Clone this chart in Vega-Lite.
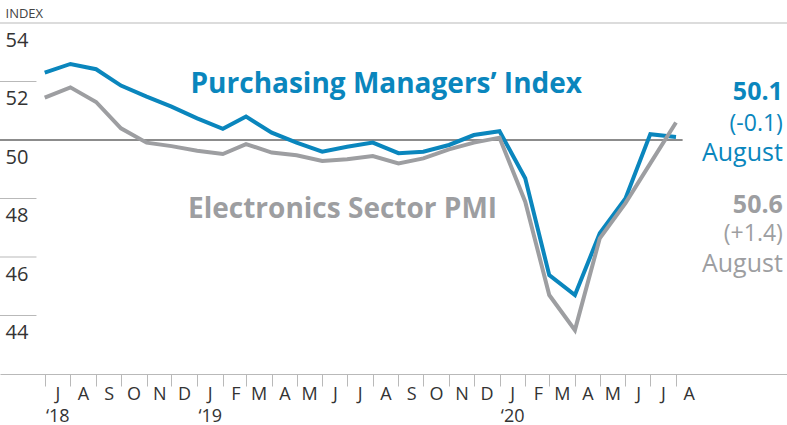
{
  "$schema": "https://vega.github.io/schema/vega-lite/v6.json",
  "width": 787,
  "height": 351,
  "autosize": {"type": "none"},
  "padding": {"left": 0, "top": 23, "right": 0, "bottom": 51},
  "background": "white",
  "config": {"view": {"stroke": null}, "font": "Open Sans"},
  "data": {
    "values": [
      {"month": "2018-07-01", "pmi": 52.3, "electronics": 51.45},
      {"month": "2018-08-01", "pmi": 52.6, "electronics": 51.8},
      {"month": "2018-09-01", "pmi": 52.42, "electronics": 51.3},
      {"month": "2018-10-01", "pmi": 51.86, "electronics": 50.4},
      {"month": "2018-11-01", "pmi": 51.48, "electronics": 49.91},
      {"month": "2018-12-01", "pmi": 51.14, "electronics": 49.79},
      {"month": "2019-01-01", "pmi": 50.74, "electronics": 49.63},
      {"month": "2019-02-01", "pmi": 50.38, "electronics": 49.52},
      {"month": "2019-03-01", "pmi": 50.8, "electronics": 49.86},
      {"month": "2019-04-01", "pmi": 50.25, "electronics": 49.57},
      {"month": "2019-05-01", "pmi": 49.91, "electronics": 49.48},
      {"month": "2019-06-01", "pmi": 49.6, "electronics": 49.28},
      {"month": "2019-07-01", "pmi": 49.77, "electronics": 49.34},
      {"month": "2019-08-01", "pmi": 49.91, "electronics": 49.45},
      {"month": "2019-09-01", "pmi": 49.55, "electronics": 49.2},
      {"month": "2019-10-01", "pmi": 49.6, "electronics": 49.37},
      {"month": "2019-11-01", "pmi": 49.83, "electronics": 49.68},
      {"month": "2019-12-01", "pmi": 50.17, "electronics": 49.91},
      {"month": "2020-01-01", "pmi": 50.3, "electronics": 50.08},
      {"month": "2020-02-01", "pmi": 48.69, "electronics": 47.89},
      {"month": "2020-03-01", "pmi": 45.38, "electronics": 44.7},
      {"month": "2020-04-01", "pmi": 44.7, "electronics": 43.5},
      {"month": "2020-05-01", "pmi": 46.81, "electronics": 46.64},
      {"month": "2020-06-01", "pmi": 48.0, "electronics": 47.84},
      {"month": "2020-07-01", "pmi": 50.2, "electronics": 49.2},
      {"month": "2020-08-01", "pmi": 50.1, "electronics": 50.6}
    ]
  },
  "layer": [
    {
      "data": {"values": [{"tick": 52}, {"tick": 48}, {"tick": 46}, {"tick": 44}]},
      "mark": {"type": "rule", "color": "#b9b9b9", "strokeWidth": 1.2},
      "encoding": {
        "y": {"field": "tick", "type": "quantitative", "scale": {"domain": [42, 54], "nice": false, "zero": false}},
        "x": {"datum": {"year": 2018, "month": 5, "date": 8, "utc": true}, "type": "temporal", "scale": {"type": "utc", "domain": [{"year": 2018, "month": 5, "date": 8, "utc": true}, {"year": 2020, "month": 12, "date": 13, "utc": true}]}},
        "x2": {"datum": {"year": 2018, "month": 6, "date": 21, "utc": true}}
      }
    },
    {
      "data": {"values": [{}]},
      "mark": {"type": "rule", "color": "#b9b9b9", "strokeWidth": 1.2},
      "encoding": {
        "y": {"datum": 54, "type": "quantitative", "scale": {"domain": [42, 54], "nice": false, "zero": false}}
      }
    },
    {
      "data": {"values": [{}]},
      "mark": {"type": "rule", "color": "#1a1a1a", "strokeWidth": 1.2},
      "encoding": {
        "y": {"datum": 50, "type": "quantitative", "scale": {"domain": [42, 54], "nice": false, "zero": false}},
        "x": {"datum": {"year": 2018, "month": 5, "date": 8, "utc": true}, "type": "temporal", "scale": {"type": "utc", "domain": [{"year": 2018, "month": 5, "date": 8, "utc": true}, {"year": 2020, "month": 12, "date": 13, "utc": true}]}},
        "x2": {"datum": {"year": 2020, "month": 8, "date": 9, "utc": true}}
      }
    },
    {
      "mark": {"type": "line", "color": "#0a86bd", "strokeWidth": 4, "strokeJoin": "miter", "strokeCap": "butt"},
      "encoding": {
        "x": {
          "field": "month", "type": "temporal",
          "scale": {"type": "utc", "domain": [{"year": 2018, "month": 5, "date": 8, "utc": true}, {"year": 2020, "month": 12, "date": 13, "utc": true}]},
          "axis": {
            "title": null,
            "values": {"expr": "[utc(2018,6,1),utc(2018,7,1),utc(2018,8,1),utc(2018,9,1),utc(2018,10,1),utc(2018,11,1),utc(2019,0,1),utc(2019,1,1),utc(2019,2,1),utc(2019,3,1),utc(2019,4,1),utc(2019,5,1),utc(2019,6,1),utc(2019,7,1),utc(2019,8,1),utc(2019,9,1),utc(2019,10,1),utc(2019,11,1),utc(2020,0,1),utc(2020,1,1),utc(2020,2,1),utc(2020,3,1),utc(2020,4,1),utc(2020,5,1),utc(2020,6,1),utc(2020,7,1)]"},
            "tickCount": 40,
            "grid": false,
            "domain": true,
            "domainColor": "#b9b9b9",
            "domainWidth": 1.2,
            "ticks": true,
            "tickColor": "#b9b9b9",
            "tickSize": 12,
            "tickWidth": 1,
            "labelExpr": "(utcmonth(datum.value) == 0 || (utcyear(datum.value) == 2018 && utcmonth(datum.value) == 6)) ? [substring(utcFormat(datum.value, '%b'), 0, 1), '‘' + utcFormat(datum.value, '%y')] : substring(utcFormat(datum.value, '%b'), 0, 1)",
            "labelAlign": "center",
            "labelBaseline": "top",
            "labelPadding": -1,
            "labelOffset": 12.6,
            "labelFont": "Open Sans",
            "labelFontSize": 18,
            "labelColor": "#333333",
            "labelLineHeight": 22,
            "labelFlush": false,
            "labelOverlap": false,
            "labelBound": false
          }
        },
        "y": {
          "field": "pmi", "type": "quantitative",
          "scale": {"domain": [42, 54], "nice": false, "zero": false},
          "axis": {
            "title": "INDEX",
            "titleAngle": 0,
            "titleAlign": "left",
            "titleBaseline": "alphabetic",
            "titleX": 5,
            "titleY": -6,
            "titleFont": "Open Sans",
            "titleFontSize": 13,
            "titleFontWeight": "normal",
            "titleColor": "#444444",
            "values": [44, 46, 48, 50, 52, 54],
            "format": ".0f",
            "grid": false,
            "domain": false,
            "ticks": false,
            "tickSize": 0,
            "labelAlign": "left",
            "labelBaseline": "alphabetic",
            "labelPadding": -5,
            "labelOffset": 23,
            "labelFont": "Open Sans",
            "labelFontSize": 20,
            "labelColor": "#333333",
            "labelFlush": false,
            "labelOverlap": false,
            "labelBound": false
          }
        }
      }
    },
    {
      "mark": {"type": "line", "color": "#9d9ea1", "strokeWidth": 4, "strokeJoin": "miter", "strokeCap": "butt"},
      "encoding": {
        "x": {"field": "month", "type": "temporal", "scale": {"type": "utc", "domain": [{"year": 2018, "month": 5, "date": 8, "utc": true}, {"year": 2020, "month": 12, "date": 13, "utc": true}]}},
        "y": {"field": "electronics", "type": "quantitative", "scale": {"domain": [42, 54], "nice": false, "zero": false}}
      }
    },
    {
      "data": {"values": [{}]},
      "mark": {"type": "text", "text": "Purchasing Managers’ Index", "font": "Open Sans", "fontSize": 28, "fontWeight": "bold", "color": "#0a86bd", "align": "left", "baseline": "alphabetic"},
      "encoding": {
        "x": {"datum": {"year": 2018, "month": 12, "date": 24, "utc": true}, "type": "temporal", "scale": {"type": "utc", "domain": [{"year": 2018, "month": 5, "date": 8, "utc": true}, {"year": 2020, "month": 12, "date": 13, "utc": true}]}},
        "y": {"datum": 51.61, "type": "quantitative", "scale": {"domain": [42, 54], "nice": false, "zero": false}}
      }
    },
    {
      "data": {"values": [{}]},
      "mark": {"type": "text", "text": "Electronics Sector PMI", "font": "Open Sans", "fontSize": 28, "fontWeight": "bold", "color": "#9d9ea1", "align": "left", "baseline": "alphabetic"},
      "encoding": {
        "x": {"datum": {"year": 2018, "month": 12, "date": 21, "utc": true}, "type": "temporal", "scale": {"type": "utc", "domain": [{"year": 2018, "month": 5, "date": 8, "utc": true}, {"year": 2020, "month": 12, "date": 13, "utc": true}]}},
        "y": {"datum": 47.33, "type": "quantitative", "scale": {"domain": [42, 54], "nice": false, "zero": false}}
      }
    },
    {
      "data": {"values": [{}]},
      "mark": {"type": "text", "text": "50.1", "font": "Open Sans", "fontSize": 25, "fontWeight": "bold", "color": "#0a86bd", "align": "right", "baseline": "alphabetic"},
      "encoding": {
        "x": {"datum": {"year": 2020, "month": 12, "date": 8, "utc": true}, "type": "temporal", "scale": {"type": "utc", "domain": [{"year": 2018, "month": 5, "date": 8, "utc": true}, {"year": 2020, "month": 12, "date": 13, "utc": true}]}},
        "y": {"datum": 51.368, "type": "quantitative", "scale": {"domain": [42, 54], "nice": false, "zero": false}}
      }
    },
    {
      "data": {"values": [{}]},
      "mark": {"type": "text", "text": "(-0.1)", "font": "Open Sans", "fontSize": 23, "fontWeight": "normal", "color": "#0a86bd", "align": "right", "baseline": "alphabetic"},
      "encoding": {
        "x": {"datum": {"year": 2020, "month": 12, "date": 8, "utc": true}, "type": "temporal", "scale": {"type": "utc", "domain": [{"year": 2018, "month": 5, "date": 8, "utc": true}, {"year": 2020, "month": 12, "date": 13, "utc": true}]}},
        "y": {"datum": 50.3, "type": "quantitative", "scale": {"domain": [42, 54], "nice": false, "zero": false}}
      }
    },
    {
      "data": {"values": [{}]},
      "mark": {"type": "text", "text": "August", "font": "Open Sans", "fontSize": 25, "fontWeight": "normal", "color": "#0a86bd", "align": "right", "baseline": "alphabetic"},
      "encoding": {
        "x": {"datum": {"year": 2020, "month": 12, "date": 8, "utc": true}, "type": "temporal", "scale": {"type": "utc", "domain": [{"year": 2018, "month": 5, "date": 8, "utc": true}, {"year": 2020, "month": 12, "date": 13, "utc": true}]}},
        "y": {"datum": 49.27, "type": "quantitative", "scale": {"domain": [42, 54], "nice": false, "zero": false}}
      }
    },
    {
      "data": {"values": [{}]},
      "mark": {"type": "text", "text": "50.6", "font": "Open Sans", "fontSize": 25, "fontWeight": "bold", "color": "#9d9ea1", "align": "right", "baseline": "alphabetic"},
      "encoding": {
        "x": {"datum": {"year": 2020, "month": 12, "date": 8, "utc": true}, "type": "temporal", "scale": {"type": "utc", "domain": [{"year": 2018, "month": 5, "date": 8, "utc": true}, {"year": 2020, "month": 12, "date": 13, "utc": true}]}},
        "y": {"datum": 47.504, "type": "quantitative", "scale": {"domain": [42, 54], "nice": false, "zero": false}}
      }
    },
    {
      "data": {"values": [{}]},
      "mark": {"type": "text", "text": "(+1.4)", "font": "Open Sans", "fontSize": 23, "fontWeight": "normal", "color": "#9d9ea1", "align": "right", "baseline": "alphabetic"},
      "encoding": {
        "x": {"datum": {"year": 2020, "month": 12, "date": 8, "utc": true}, "type": "temporal", "scale": {"type": "utc", "domain": [{"year": 2018, "month": 5, "date": 8, "utc": true}, {"year": 2020, "month": 12, "date": 13, "utc": true}]}},
        "y": {"datum": 46.54, "type": "quantitative", "scale": {"domain": [42, 54], "nice": false, "zero": false}}
      }
    },
    {
      "data": {"values": [{}]},
      "mark": {"type": "text", "text": "August", "font": "Open Sans", "fontSize": 25, "fontWeight": "normal", "color": "#9d9ea1", "align": "right", "baseline": "alphabetic"},
      "encoding": {
        "x": {"datum": {"year": 2020, "month": 12, "date": 8, "utc": true}, "type": "temporal", "scale": {"type": "utc", "domain": [{"year": 2018, "month": 5, "date": 8, "utc": true}, {"year": 2020, "month": 12, "date": 13, "utc": true}]}},
        "y": {"datum": 45.49, "type": "quantitative", "scale": {"domain": [42, 54], "nice": false, "zero": false}}
      }
    }
  ]
}
